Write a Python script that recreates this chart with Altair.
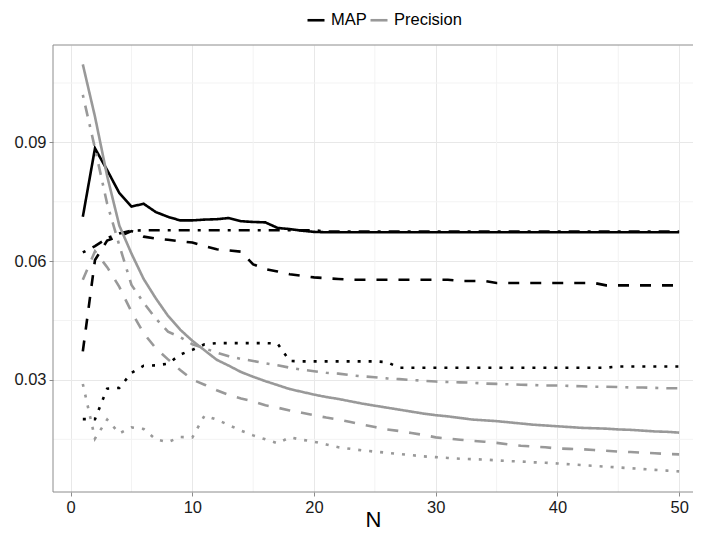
import altair as alt
import pandas as pd

N = list(range(1, 51))

map_solid = [0.0712, 0.0885, 0.0830, 0.0772, 0.0738, 0.0745, 0.0724, 0.0712, 0.0703, 0.0703,
             0.0705, 0.0706, 0.0709, 0.0701, 0.0699, 0.0698, 0.0684, 0.0681, 0.0677, 0.0674] + [0.0673] * 30

map_dashed = [0.0372, 0.0603, 0.0652, 0.0663, 0.0676, 0.0662, 0.0657, 0.0654, 0.0650, 0.0647,
              0.0638, 0.0630, 0.0627, 0.0624, 0.0592, 0.0580, 0.0574, 0.0567, 0.0563, 0.0559,
              0.0557, 0.0555] + [0.0553] * 9 + [0.0550] * 3 + [0.0545] * 9 + [0.0539] * 7

map_dotdash = [0.0622, 0.0638, 0.0658, 0.0670, 0.0677] + [0.0678] * 15 + [0.0675] * 30

map_dotted = [0.0201, 0.0201, 0.0278, 0.0280, 0.0318, 0.0336, 0.0337, 0.0341, 0.0364, 0.0376,
              0.0390, 0.0393, 0.0393, 0.0393, 0.0393, 0.0393, 0.0392, 0.0348] + [0.0347] * 7 + \
             [0.0345] + [0.0331] * 18 + [0.0334] * 6

prec_solid = [0.1097, 0.0965, 0.0815, 0.0690, 0.0619, 0.0555, 0.0506, 0.0462, 0.0427, 0.0399,
              0.0375, 0.0351, 0.0336, 0.0320, 0.0308, 0.0297, 0.0287, 0.0277, 0.0270, 0.0263,
              0.0257, 0.0252, 0.0246, 0.0240, 0.0235, 0.0230, 0.0225, 0.0220, 0.0215, 0.0211,
              0.0208, 0.0204, 0.0200, 0.0198, 0.0196, 0.0193, 0.0190, 0.0187, 0.0185, 0.0183,
              0.0181, 0.0179, 0.0178, 0.0177, 0.0175, 0.0174, 0.0172, 0.0170, 0.0169, 0.0167]

prec_dotdash = [0.1020, 0.0885, 0.0745, 0.0640, 0.0540, 0.0495, 0.0455, 0.0422, 0.0408, 0.0390,
                0.0380, 0.0369, 0.0360, 0.0353, 0.0348, 0.0342, 0.0337, 0.0331, 0.0326, 0.0322,
                0.0318, 0.0316, 0.0312, 0.0309, 0.0307, 0.0304, 0.0302, 0.0300, 0.0298, 0.0296,
                0.0295, 0.0294, 0.0293, 0.0291, 0.0290, 0.0289, 0.0288, 0.0287, 0.0286, 0.0286,
                0.0285, 0.0284, 0.0283, 0.0283, 0.0282, 0.0281, 0.0281, 0.0280, 0.0279, 0.0279]

prec_dashed = [0.0553, 0.0625, 0.0585, 0.0535, 0.0472, 0.0418, 0.0380, 0.0352, 0.0325, 0.0301,
               0.0288, 0.0274, 0.0262, 0.0253, 0.0246, 0.0236, 0.0230, 0.0223, 0.0217, 0.0211,
               0.0205, 0.0200, 0.0194, 0.0187, 0.0181, 0.0175, 0.0171, 0.0166, 0.0161, 0.0155,
               0.0152, 0.0149, 0.0146, 0.0144, 0.0141, 0.0137, 0.0134, 0.0132, 0.0130, 0.0127,
               0.0126, 0.0125, 0.0123, 0.0121, 0.0119, 0.0118, 0.0116, 0.0115, 0.0113, 0.0112]

prec_dotted = [0.0290, 0.0152, 0.0200, 0.0165, 0.0180, 0.0176, 0.0150, 0.0143, 0.0156, 0.0155,
               0.0210, 0.0200, 0.0186, 0.0172, 0.0160, 0.0150, 0.0140, 0.0155, 0.0149, 0.0144,
               0.0137, 0.0130, 0.0126, 0.0122, 0.0119, 0.0116, 0.0113, 0.0110, 0.0107, 0.0105,
               0.0103, 0.0101, 0.0100, 0.0099, 0.0097, 0.0095, 0.0094, 0.0092, 0.0091, 0.0089,
               0.0087, 0.0085, 0.0083, 0.0081, 0.0079, 0.0077, 0.0075, 0.0073, 0.0071, 0.0069]

metrics = ["MAP", "Precision"]
styles = ["solid", "dashed", "dotted", "dotdash"]
x_ticks = [0, 10, 20, 30, 40, 50]
x_minor = [5, 15, 25, 35, 45]
y_ticks = [0.03, 0.06, 0.09]
y_minor = [0.015, 0.045, 0.075, 0.105]

series = [
    ("MAP", "solid", map_solid), ("MAP", "dashed", map_dashed),
    ("MAP", "dotted", map_dotted), ("MAP", "dotdash", map_dotdash),
    ("Precision", "solid", prec_solid), ("Precision", "dashed", prec_dashed),
    ("Precision", "dotted", prec_dotted), ("Precision", "dotdash", prec_dotdash),
]
rows = []
for m, s, vals in series:
    for n, v in zip(N, vals):
        rows.append({"N": n, "value": v, "metric": m, "style": s})
df = pd.DataFrame(rows)

FONT = "Liberation Sans"
W, H = 640, 447
x_scale = alt.Scale(domain=[-1.45, 51.14], nice=False, zero=False)
y_scale = alt.Scale(domain=[0.0017, 0.1146], nice=False, zero=False)
x_axis = alt.Axis(values=x_ticks, title="N", format="d", titleY=34, titleBaseline="alphabetic")
y_axis = alt.Axis(values=y_ticks, title=None, format=".2f")

xm = alt.Chart(pd.DataFrame({"N": x_minor})).mark_rule(color="#F3F3F3", strokeWidth=1).encode(
    x=alt.X("N:Q", scale=x_scale, axis=x_axis))
ym = alt.Chart(pd.DataFrame({"value": y_minor})).mark_rule(color="#F3F3F3", strokeWidth=1).encode(
    y=alt.Y("value:Q", scale=y_scale, axis=y_axis))

# panel border (right side falls outside the visible page, as in the reference)
border = alt.Chart(pd.DataFrame({"b": [0]})).mark_rect(
    fillOpacity=0, stroke="#8c8c8c", strokeWidth=1
).encode(x=alt.value(0), x2=alt.value(W + 30), y=alt.value(0), y2=alt.value(H))

lines = alt.Chart(df).mark_line(strokeWidth=2.6, strokeCap="butt").encode(
    x=alt.X("N:Q", scale=x_scale, axis=x_axis),
    y=alt.Y("value:Q", scale=y_scale, axis=y_axis),
    color=alt.Color("metric:N",
                    scale=alt.Scale(domain=metrics, range=["#000000", "#999999"]),
                    legend=alt.Legend(title=None, orient="none", legendX=253, legendY=-35,
                                      direction="horizontal", columns=2,
                                      symbolType="stroke", symbolSize=289, symbolStrokeWidth=2.6,
                                      labelFont=FONT, labelFontSize=16.5, labelColor="#000000",
                                      labelOffset=5, columnPadding=-2, padding=0)),
    strokeDash=alt.StrokeDash("style:N",
                              scale=alt.Scale(domain=styles,
                                              range=[[1, 0], [11, 11], [3, 8], [3, 8, 11, 8]]),
                              legend=None),
)

chart = alt.layer(xm, ym, border, lines).properties(
    width=W, height=H,
    padding={"left": 45, "top": 37, "right": 0, "bottom": 40},
    autosize=alt.AutoSizeParams(type="none"),
    background="white",
).configure_view(
    strokeWidth=0
).configure_axis(
    grid=True, gridColor="#E8E8E8", gridWidth=1,
    domain=False, tickColor="#8c8c8c", tickSize=4,
    labelFont=FONT, labelFontSize=16.5, labelColor="#1a1a1a", labelPadding=3,
    titleFont=FONT, titleFontSize=22, titleFontWeight="normal", titleColor="#000000",
)

chart.save("out.html", embed_options={"renderer": "svg", "actions": False})
